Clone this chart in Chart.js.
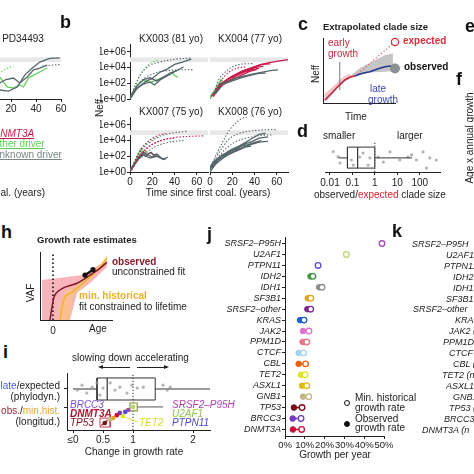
<!DOCTYPE html>
<html>
<head>
<meta charset="utf-8">
<script src="https://cdn.jsdelivr.net/npm/chart.js@4.4.1/dist/chart.umd.min.js"></script>
<style>
  html, body { margin: 0; padding: 0; }
  body { width: 474px; height: 474px; overflow: hidden; position: relative; background: #fff;
         font-family: "Liberation Sans", Arial, sans-serif; color: #222; }
  canvas { position: absolute; }
  .t { position: absolute; white-space: nowrap; line-height: 1; }
</style>
</head>
<body>
<script>
// ---------- data ----------
// b / a: clone size (Neff) trajectories, [years since first coalescence, Neff]
const timeTicks = [0, 20, 40, 60];
const neffTicks = [1, 1e2, 1e4, 1e6];
const neffTickLabels = ['1e+00', '1e+02', '1e+04', '1e+06'];
const neffBand = [5e4, 2e5];

const pd34493Lines = [
  {driver: 'unknown', pts: [[0,1],[6,5],[11,14],[18,10],[25,34],[31,1100],[38,1.2e4],[43,5e4],[51,1.5e5],[59,1.7e5]]},
  {driver: 'unknown', pts: [[0,1],[6,20],[11,110],[16,300],[22,470],[27,110],[33,630],[38,5e3],[43,8.7e3],[49,2.1e4]]},
  {driver: 'other', pts: [[0,1],[5,40],[11,630],[17,34],[22,25],[27,60],[30,34],[34,470],[38,1100],[43,2.7e3],[49,8.7e3]]},
  {driver: 'other', fit: true, pts: [[0,1],[5,150],[11,2e3],[17,8e3],[22,1.5e4]]},
  {driver: 'unknown', fit: true, pts: [[45,1.5e4],[52,2e4],[60,2.5e4]]}
];
const kx003Lines = [
  {driver: 'unknown', fit: true, pts: [[0,1],[9,1.1e3],[18,2e4],[27,5e4],[41,1.2e5],[55,1.6e5]]},
  {driver: 'unknown', fit: true, pts: [[0,1],[10,200],[20,1.5e3],[30,3.5e3],[42,5e3],[56,5.5e3]]},
  {driver: 'other', fit: true, pts: [[0,1],[5,60],[10,1.5e3],[15,1.5e4],[20,5e4],[25,9e4]]},
  {driver: 'unknown', pts: [[0,1],[5,15],[10,60],[15,200],[20,400],[27,2.7e3],[33,6e3],[40,2.5e4],[47,5e4],[55,1.2e5]]},
  {driver: 'unknown', pts: [[0,1],[6,20],[12,80],[18,150],[22,60],[27,260],[33,800],[40,3e3],[48,1.2e4]]},
  {driver: 'unknown', pts: [[0,2],[6,40],[12,300],[18,500],[24,200],[30,600],[36,2e3],[42,4e3]]},
  {driver: 'other', pts: [[0,1],[6,50],[12,250],[18,120],[25,300],[32,800],[38,2.5e3],[40,900],[43,600]]}
];
const kx004Lines = [
  {driver: 'unknown', fit: true, pts: [[3,3],[8,300],[14,3e3],[20,1.2e4],[26,2.5e4],[32,3e4],[38,3.2e4]]},
  {driver: 'DNMT3A', fit: true, pts: [[5,5],[10,200],[15,1.5e3],[20,5e3],[27,1e4],[33,1.3e4]]},
  {driver: 'unknown', pts: [[3,3],[9,100],[15,150],[22,400],[30,800],[38,1.5e3],[46,2.5e3],[54,4e3],[61,5e3]]},
  {driver: 'unknown', pts: [[5,5],[12,80],[20,200],[28,500],[36,1e3],[44,1.8e3],[50,2e3]]},
  {driver: 'DNMT3A', pts: [[2,3],[6,20],[10,80],[15,300],[20,800],[28,3e3],[36,8e3],[44,2e4],[52,4e4],[60,6e4],[70,1e5]]},
  {driver: 'DNMT3A', pts: [[3,2],[8,30],[13,150],[18,500],[24,1.5e3],[30,4e3],[38,1e4],[46,2.5e4],[54,3e4]]},
  {driver: 'DNMT3A', pts: [[4,5],[9,60],[14,200],[20,600],[26,2e3],[33,4e3],[40,1e4],[48,1.5e4]]},
  {driver: 'DNMT3A', pts: [[1,2],[7,15],[12,100],[17,200],[23,800],[30,2.5e3],[37,5e3],[44,8e3]]},
  {driver: 'DNMT3A', pts: [[5,10],[10,50],[16,150],[22,400],[28,1e3],[35,3e3],[42,6e3]]},
  {driver: 'other', pts: [[0,1],[2,3],[4,10],[6,40],[8,100],[10,300],[12,150]]},
  {driver: 'other', pts: [[0,2],[3,8],[6,20],[9,80],[11,40]]}
];
const kx007Lines = [
  {driver: 'unknown', fit: true, pts: [[0,1],[5,30],[10,500],[15,3e3],[20,1e4],[28,4e4],[36,8e4],[44,1.2e5],[52,1.5e5]]},
  {driver: 'DNMT3A', fit: true, pts: [[0,1],[5,40],[10,800],[15,5e3],[20,2e4],[26,5e4],[32,8e4]]},
  {driver: 'DNMT3A', fit: true, pts: [[0,1],[6,20],[12,300],[18,2e3],[26,8e3],[36,2e4],[46,3e4],[56,3.5e4],[66,4e4]]},
  {driver: 'other', fit: true, pts: [[0,1],[5,50],[10,1e3],[15,5e3],[20,1.5e4],[24,2.5e4]]},
  {driver: 'unknown', fit: true, pts: [[0,1],[8,40],[16,400],[24,2e3],[32,5e3],[40,8e3],[48,1e4]]},
  {driver: 'DNMT3A', fit: true, pts: [[0,1],[8,100],[16,1.5e3],[24,6e3],[32,1.5e4],[40,2e4]]},
  {driver: 'unknown', pts: [[0,1],[4,8],[8,60],[12,300],[16,150],[20,80],[24,200],[28,60],[32,40]]},
  {driver: 'unknown', pts: [[0,2],[5,20],[10,200],[14,100],[18,300],[22,150],[26,80]]},
  {driver: 'other', pts: [[0,1],[4,15],[8,300],[10,800],[12,200],[15,500]]},
  {driver: 'DNMT3A', pts: [[2,3],[7,60],[12,400],[15,150],[19,300],[22,100]]},
  {driver: 'unknown', pts: [[0,1],[6,30],[12,150],[18,60],[24,100],[30,40],[34,80]]}
];
const kx008Lines = [
  {driver: 'unknown', fit: true, pts: [[0,3],[4,50],[8,800],[12,1e4],[16,1e5],[20,6e5],[25,3e6],[30,8e6],[34,1e7]]},
  {driver: 'unknown', fit: true, pts: [[0,2],[6,100],[12,2e3],[18,2e4],[26,8e4],[34,1.5e5],[42,2e5],[52,2.5e5],[60,2.5e5]]},
  {driver: 'unknown', fit: true, pts: [[0,2],[8,100],[16,1.5e3],[24,8e3],[32,2e4],[40,3.5e4],[50,5e4],[56,5e4]]},
  {driver: 'unknown', pts: [[0,3],[4,15],[8,60],[12,150],[16,400],[20,800],[26,2e3],[32,6e3],[38,2e4],[44,6e4],[50,8e4]]},
  {driver: 'unknown', pts: [[0,2],[5,20],[10,100],[15,200],[20,600],[26,1.5e3],[32,4e3],[38,8e3],[44,2e4],[52,3e4]]},
  {driver: 'unknown', pts: [[1,5],[6,40],[11,150],[16,300],[22,700],[28,2e3],[34,3e3],[40,6e3],[46,1e4]]},
  {driver: 'unknown', pts: [[0,1],[5,10],[10,40],[16,150],[22,400],[28,1e3],[34,2.5e3],[40,5e3],[46,7e3],[52,8e3]]},
  {driver: 'unknown', pts: [[2,3],[7,30],[13,100],[19,300],[25,800],[31,1.5e3],[37,2e3]]},
  {driver: 'unknown', pts: [[0,4],[3,20],[7,50],[12,120],[18,250],[24,500],[30,1.2e3],[36,3e3],[42,5e3]]}
];

// c: schematic of extrapolated clade size
const earlyGrowth = [[0.3,0.46],[0.7,0.92],[1.4,1.7],[2.1,2.5],[2.7,3.1],[3.1,3.5],[3.9,4.0],[4.6,4.15]];
const lateGrowth = [[4.6,4.15],[5.3,4.46],[6,4.66],[6.7,4.82],[7.4,5.08],[8.1,5.34],[8.9,5.58],[9.6,5.69],[10,5.58]];
const earlyBand = [[0.2,1.4],[1,2.1],[2,3.1],[3,4.1],[3.9,4.5],[3.9,3.8],[3,3.3],[2,2.2],[1,0.9],[0.2,0.1]];
const lateBand = [[3.9,4.2],[5.3,5.4],[6.7,6.15],[8.9,7.4],[10,7.6],[10,4.9],[8.9,4.8],[6.7,4.7],[5.3,4.5],[3.9,3.9]];
const extrapolation = [[4.6,4.15],[10.3,9.4]];
const expectedSize = [[10.3,9.4]];
const observedSize = [[10.3,5.3]];
const growthSplit = [[2.4,2.0],[2.4,6.3]];

// d: observed / expected clade size
const ratioTicks = [0.01, 0.1, 1, 10, 100];
const ratioTickLabels = ['0.01', '0.1', '1', '10', '100'];
const cladeBoxStats = [0.024, 0.06, 0.17, 1, 45];
const cladeRatio = [0.014,0.023,0.028,0.09,0.3,0.6,0.5,0.21,0.11,4.7,13,30,43,71,140,200,280,550,1.4,2.4];
const cladeJitter = [0.68,0.51,0.3,0.4,0.63,0.47,0.23,0.5,0.23,0.67,0.4,0.5,0.57,0.4,0.67,0.13,0.47,0.4,0.5,0.33];

// h: growth rate estimate schematic (age, VAF)
const hObserved = [[1.39,0],[1.67,1.9],[2.08,3.7],[3.19,4.7],[5.14,5.4],[6.94,6.6],[8.33,7.6],[9.3,8.5]];
const hMinHist = [[2.78,0],[3.06,1.9],[3.47,3.4],[4.44,4.1],[5.97,5.4],[7.22,6.6],[8.33,7.8],[9.3,9.1]];
const hObsBand = [[0.28,5.9],[5.97,6.6],[9.3,8.8],[9.3,7.8],[6.94,5.4],[5.14,4.0],[4.17,0],[0.28,0]];
const hMinBand = [[2.5,0],[2.78,2.2],[3.47,4.1],[5.56,5.4],[8.33,8.1],[9.3,9.6],[9.3,8.5],[7.6,6.6],[5.56,4.4],[4.44,3.2],[4.17,0]];
const hSamples = [[6.25,6.6],[7.36,7.4]];
const hAgeZero = 1.8;

// i: change in growth rate
const changeTicks = [0, 0.5, 1, 2];
const changeTickLabels = ['\u22640', '0.5', '1', '2'];
const phyloBoxStats = [0, 0.4, 0.57, 1.37, 2.4];
const phyloChange = [0.07,0.15,0.23,0.32,0.5,0.62,0.7,0.78,0.9,0.98,1.07,1.17,1.5,1.62,1.57,0.45,0.4];
const phyloJitter = [0.91,1.11,0.79,1.03,0.99,1.2,0.91,1.03,0.79,1.11,0.99,1.03,1.11,1.03,0.91,0.71,1.2];
const longitGenes = ['U2AF1','SRSF2\u2013P95H','PTPN11','BRCC3','DNMT3A','TET2','SF3B1','GNB1','TP53'];
const longitChange = [1.0,0.92,0.87,0.78,0.73,0.83,0.67,0.62,0.53];
const longitJitter = [0.23,0.11,0.03,-0.01,-0.1,-0.14,-0.22,-0.26,-0.42];
const longitBoxStats = [0.95, 1.0, 1.07, 1.5];

// j: growth per year by driver gene
const genes = ['SRSF2\u2013P95H','U2AF1','PTPN11','IDH2','IDH1','SF3B1','SRSF2\u2013other','KRAS','JAK2',
               'PPM1D','CTCF','CBL','TET2','ASXL1','GNB1','TP53','BRCC3','DNMT3A'];
const minHistRate = [0.49,0.31,0.167,0.141,0.187,0.13,0.13,0.096,0.121,0.11,0.094,0.104,0.101,0.11,0.12,0.086,0.081,0.084];
const observedRate = [null,null,null,0.129,0.172,0.115,0.113,0.076,0.091,0.089,0.069,0.069,0.081,0.086,0.091,0.045,0.039,0.04];
const rateTicks = [0, 0.1, 0.2, 0.3, 0.4, 0.5];
const rateTickLabels = ['0%', '10%', '20%', '30%', '40%', '50%'];
const kLabels = ['SRSF2\u2013P95H','U2AF1','PTPN11','IDH2 (n','IDH1','SF3B1 (n','SRSF2\u2013other','KRAS (n','JAK2 (n',
                 'PPM1D (n','CTCF (n','CBL (n','TET2 (n','ASXL1 (n','GNB1','TP53 (n','BRCC3 (n','DNMT3A (n'];

// ---------- styles ----------
const INK = '#222';
const driverColour = {DNMT3A: '#c8194b', other: '#5fd05a', unknown: '#56666b'};
const geneColours = ['#9a4fb0','#b8d46a','#5a4cc4','#3a9a3a','#8c8c8c','#e8a020','#7b2a8a','#2160c4','#e070d0',
                     '#e87484','#a6d2f0','#e8600f','#e2e228','#e0b818','#c2b884','#7a0d18','#7436c4','#c8123a'];
const colourOf = {};
genes.forEach((g, i) => { colourOf[g] = geneColours[i]; });

Chart.defaults.font.family = '"Liberation Sans", Arial, sans-serif';
Chart.defaults.font.size = 10;
Chart.defaults.color = INK;
Chart.defaults.animation = false;
Chart.defaults.responsive = false;
Chart.defaults.plugins.legend.display = false;
Chart.defaults.plugins.tooltip.enabled = false;

const PAD = 16;

// canvas placed so that the chart area lands on area = [x0, y0, x1, y1]
function mount(area, yw, xh) {
  const c = document.createElement('canvas');
  const w = area[2] - area[0] + yw + 2 * PAD;
  const h = area[3] - area[1] + xh + 2 * PAD;
  c.width = w; c.height = h;
  c.style.width = w + 'px'; c.style.height = h + 'px';
  c.style.left = (area[0] - yw - PAD) + 'px';
  c.style.top = (area[1] - PAD) + 'px';
  document.body.appendChild(c);
  return c;
}

function axis(type, min, max, o) {
  o = o || {};
  const shown = o.show !== false;
  const ax = {
    type: type, min: min, max: max,
    display: shown,
    reverse: !!o.reverse,
    border: {display: o.line !== false, color: INK, width: 1},
    grid: {display: !!o.marks, drawOnChartArea: false, drawTicks: true, tickLength: 3, color: INK, tickColor: INK},
    ticks: {display: !!o.labels, padding: o.pad !== undefined ? o.pad : 1, font: o.font || {size: 10},
            color: INK, autoSkip: false, maxRotation: 0},
    afterFit: s => {
      const size = shown ? (o.size || 0) : 0;
      if (s.isHorizontal()) s.height = size; else s.width = size;
      s.paddingLeft = s.paddingRight = s.paddingTop = s.paddingBottom = 0;
    }
  };
  if (o.values) ax.afterBuildTicks = s => { s.ticks = o.values.map(v => ({value: v})); };
  if (o.labels) ax.ticks.callback = v => { const k = o.values.indexOf(v); return k < 0 ? '' : o.labels[k]; };
  return ax;
}

const xy = arr => arr.map(p => ({x: p[0], y: p[1]}));
function line(pts, colour, width, extra) {
  return Object.assign({data: xy(pts), showLine: true, pointRadius: 0, borderColor: colour, borderWidth: width}, extra || {});
}
function shape(pts, fillColour) {
  return {data: xy(pts), showLine: true, pointRadius: 0, borderWidth: 0, fill: 'shape', backgroundColor: fillColour, order: 10};
}

// ---------- a, b: Neff trajectories ----------
function neffPanel(area, traces, xmax, showX, showY) {
  const sets = traces.map(tr => line(tr.pts, driverColour[tr.driver], tr.fit ? 1.1 : 1.3,
    {borderDash: tr.fit ? [1.4, 1.8] : [], tension: tr.fit ? 0.35 : 0}));
  sets.push({data: [{x: 0, y: neffBand[1]}, {x: xmax, y: neffBand[1]}], showLine: true, pointRadius: 0,
             borderWidth: 0, fill: {value: neffBand[0]}, backgroundColor: '#e8e8e8', order: 10});
  return new Chart(mount(area, showY ? 30 : 0, showX ? 14 : 0), {
    type: 'scatter',
    data: {datasets: sets},
    options: {
      layout: {padding: PAD},
      scales: {
        x: axis('linear', 0, xmax, {show: showX, marks: true, values: timeTicks, labels: timeTicks.map(String), size: 14}),
        y: axis('logarithmic', 1, 1e7, {show: showY, marks: true, values: neffTicks, labels: neffTickLabels, size: 30})
      }
    }
  });
}
neffPanel([-14, 44, 61, 99], pd34493Lines, 60, true, false);
neffPanel([130, 44, 208, 99], kx003Lines, 70, false, true);
neffPanel([210, 44, 288, 99], kx004Lines, 70, false, false);
neffPanel([130, 117, 208, 172], kx007Lines, 70, true, true);
neffPanel([210, 117, 288, 172], kx008Lines, 70, true, false);

// ---------- c: extrapolated clade size ----------
new Chart(mount([323, 38, 395, 103], 0, 0), {
  type: 'scatter',
  data: {datasets: [
    {data: xy(expectedSize), pointRadius: 3.6, pointBackgroundColor: '#fff', pointBorderColor: '#e03040', pointBorderWidth: 1.3, clip: false},
    {data: xy(observedSize), pointRadius: 5, pointBackgroundColor: '#8a9094', pointBorderWidth: 0, clip: false},
    line(lateGrowth, '#27358f', 1.6),
    line(earlyGrowth, '#b8283e', 1.6),
    line(extrapolation, '#e2606a', 1.1, {borderDash: [1.4, 2]}),
    line(growthSplit, '#777', 1),
    shape(lateBand, 'rgba(140,140,140,0.5)'),
    shape(earlyBand, 'rgba(236,160,170,0.6)')
  ]},
  options: {
    layout: {padding: PAD},
    scales: {x: axis('linear', 0, 10.3), y: axis('linear', 0, 10)}
  }
});

// ---------- d: observed/expected clade size ----------
const [dLo, dQ1, dMed, dQ3, dHi] = cladeBoxStats;
new Chart(mount([325, 142, 440, 172], 0, 15), {
  type: 'scatter',
  data: {datasets: [
    line([[dQ1,0.13],[dQ3,0.13],[dQ3,0.83],[dQ1,0.83],[dQ1,0.13]], '#333', 1),
    line([[dMed,0.13],[dMed,0.83]], '#333', 1.2),
    line([[dLo,0.47],[dQ1,0.47]], '#333', 1),
    line([[dQ3,0.47],[dHi,0.47]], '#333', 1),
    {data: cladeRatio.map((v, k) => ({x: v, y: cladeJitter[k]})), pointRadius: 1.6, pointBackgroundColor: 'rgba(150,150,150,0.7)', pointBorderWidth: 0},
    line([[1,0],[1,1.02]], '#333', 1, {borderDash: [1.2, 1.6]})
  ]},
  options: {
    layout: {padding: PAD},
    scales: {
      x: axis('logarithmic', 0.006, 800, {marks: true, values: ratioTicks, labels: ratioTickLabels, size: 15, pad: 2}),
      y: axis('linear', 0, 1, {show: false})
    }
  }
});

// ---------- h: growth rate estimates ----------
new Chart(mount([40, 252, 112, 320], 0, 14), {
  type: 'scatter',
  data: {datasets: [
    {data: xy(hSamples), pointRadius: 2.6, pointBackgroundColor: '#111', pointBorderWidth: 0},
    line(hSamples, '#111', 2.4),
    line(hObserved, '#7e1424', 1.5, {tension: 0.3}),
    line(hMinHist, '#eeb22e', 1.5, {tension: 0.3}),
    line([[hAgeZero,0],[hAgeZero,10]], '#111', 1.6, {borderDash: [1.5, 2.5]}),
    shape(hMinBand, 'rgba(250,196,120,0.6)'),
    shape(hObsBand, 'rgba(240,120,132,0.55)')
  ]},
  options: {
    layout: {padding: PAD},
    scales: {
      x: axis('linear', 0, 10, {values: [hAgeZero], labels: ['0'], size: 14, pad: 2}),
      y: axis('linear', 0, 10)
    }
  }
});

// ---------- i: change in growth rate ----------
const [pLo, pQ1, pMed, pQ3, pHi] = phyloBoxStats;
const [lQ1, lMed, lQ3, lHi] = longitBoxStats;
const tetIdx = longitGenes.indexOf('TET2');
new Chart(mount([67, 373, 210, 430], 0, 14), {
  type: 'scatter',
  data: {datasets: [
    {data: longitChange.map((v, k) => ({x: v, y: longitJitter[k]})), pointRadius: 2.3,
     pointBackgroundColor: longitGenes.map(g => colourOf[g]), pointBorderWidth: 0},
    line([[longitChange[tetIdx], longitJitter[tetIdx]], [1.08, -0.38]], colourOf['TET2'], 1),
    line([[0.45,-0.22],[0.62,-0.22],[0.62,-0.58],[0.45,-0.58],[0.45,-0.22]], '#c43c4c', 1),
    line([[0.47,-0.52],[0.58,-0.3]], '#c43c4c', 1.4),
    line([[lQ1,0.07],[lQ3,0.07],[lQ3,0.39],[lQ1,0.39],[lQ1,0.07]], '#8c9a3c', 1.2),
    line([[lQ3,0.23],[lHi,0.23]], '#555', 1),
    {data: phyloChange.map((v, k) => ({x: v, y: phyloJitter[k]})), pointRadius: 1.6, pointBackgroundColor: 'rgba(150,150,150,0.7)', pointBorderWidth: 0},
    line([[pQ1,0.51],[pQ3,0.51],[pQ3,1.40],[pQ1,1.40],[pQ1,0.51]], '#333', 1),
    line([[pMed,0.51],[pMed,1.40]], '#333', 1.2),
    line([[pLo,0.955],[pQ1,0.955]], '#333', 1),
    line([[pQ3,0.955],[pHi,0.955]], '#333', 1),
    line([[1,-0.7],[1,1.6]], '#222', 1, {borderDash: [1.2, 1.8]})
  ]},
  options: {
    layout: {padding: PAD},
    scales: {
      x: axis('linear', -0.1, 2.283, {marks: true, values: changeTicks, labels: changeTickLabels, size: 14}),
      y: axis('linear', -0.7, 1.6, {marks: true, values: [0.2, 0.955]})
    }
  }
});

// ---------- j: growth per year ----------
const rowIdx = genes.map((g, i) => i);
const jSets = [
  {data: minHistRate.map((v, i) => ({x: v, y: i})), pointRadius: 2.8, pointBackgroundColor: '#fff',
   pointBorderColor: geneColours, pointBorderWidth: 1.3, clip: false}
];
const obsIdx = rowIdx.filter(i => observedRate[i] !== null);
jSets.push({data: obsIdx.map(i => ({x: observedRate[i], y: i})), pointRadius: 2.8,
            pointBackgroundColor: obsIdx.map(i => geneColours[i]), pointBorderColor: obsIdx.map(i => geneColours[i]), pointBorderWidth: 1});
obsIdx.forEach(i => jSets.push(line([[observedRate[i], i], [minHistRate[i], i]], geneColours[i], 1.6)));
new Chart(mount([285, 237, 384, 436], 80, 14), {
  type: 'scatter',
  data: {datasets: jSets},
  options: {
    layout: {padding: PAD},
    scales: {
      x: axis('linear', 0, 0.5, {marks: true, values: rateTicks, labels: rateTickLabels, size: 14, font: {size: 9.5}}),
      y: axis('linear', -0.6, 17.6, {reverse: true, marks: true, values: rowIdx, labels: genes, size: 80,
                                      font: {size: 9, style: 'italic'}})
    }
  }
});

// ---------- text ----------
function txt(s, x, base, o) {
  o = o || {};
  const fs = o.size || 10;
  const d = document.createElement('div');
  d.className = 't';
  d.innerHTML = s;
  d.style.fontSize = fs + 'px';
  d.style.top = (base - 0.8465 * fs) + 'px';
  if (o.bold) d.style.fontWeight = 'bold';
  if (o.italic) d.style.fontStyle = 'italic';
  if (o.color) d.style.color = o.color;
  if (o.css) d.style.cssText += o.css;
  if (o.align === 'center') { d.style.left = x + 'px'; d.style.transform = 'translateX(-50%)'; }
  else if (o.align === 'right') d.style.right = (474 - x) + 'px';
  else d.style.left = x + 'px';
  document.body.appendChild(d);
  return d;
}
function vtxt(s, cx, cy, o) {
  o = o || {};
  const d = document.createElement('div');
  d.className = 't';
  d.innerHTML = s;
  d.style.fontSize = (o.size || 10) + 'px';
  d.style.left = cx + 'px';
  d.style.top = cy + 'px';
  d.style.transform = 'translate(-50%,-50%) rotate(-90deg)';
  document.body.appendChild(d);
}
function arrow(x1, x2, y, headLeft) {
  const d = document.createElement('div');
  d.style.cssText = `position:absolute;left:${x1}px;top:${y}px;width:${x2 - x1}px;height:1px;background:${INK}`;
  document.body.appendChild(d);
  const h = document.createElement('div');
  h.style.cssText = `position:absolute;top:${y - 2}px;left:${headLeft ? x1 - 2 : x2 - 3}px;width:0;height:0;` +
    'border-top:2.5px solid transparent;border-bottom:2.5px solid transparent;' +
    (headLeft ? `border-right:5px solid ${INK}` : `border-left:5px solid ${INK}`);
  document.body.appendChild(h);
}
function dot(x, y, filled) {
  const d = document.createElement('div');
  d.style.cssText = `position:absolute;left:${x - 3.5}px;top:${y - 3.5}px;width:4.6px;height:4.6px;border-radius:50%;` +
    `border:1.2px solid #111;background:${filled ? '#111' : '#fff'}`;
  document.body.appendChild(d);
}

// panel letters
const L = {size: 18, bold: true, color: '#111'};
txt('b', 60, 28, L);
txt('c', 298, 30, L);
txt('d', 297, 137, L);
txt('e', 465, 32, L);
txt('f', 456, 85, L);
txt('h', 1, 238, L);
txt('i', 3, 358, L);
txt('j', 207, 240, L);
txt('k', 392, 237, L);

// a
txt('PD34493', 23, 42, {align: 'center'});
txt('DNMT3A', -7, 137, {italic: true, color: '#c8194b', css: 'text-decoration:underline;text-underline-offset:1px;'});
txt('other driver', -6, 147, {color: '#5fd05a', css: 'text-decoration:underline;text-underline-offset:1px;'});
txt('unknown driver', -6, 158, {color: '#7a8585', css: 'text-decoration:underline;text-underline-offset:1px;'});
txt('Time since first coal. (years)', 45, 196, {align: 'right'});

// b
txt('KX003 (81 yo)', 171, 42, {align: 'center'});
txt('KX004 (77 yo)', 250, 42, {align: 'center'});
txt('KX007 (75 yo)', 171, 115, {align: 'center'});
txt('KX008 (76 yo)', 250, 115, {align: 'center'});
vtxt('Neff', 100, 108);
txt('Time since first coal. (years)', 208, 196, {align: 'center'});

// c
txt('Extrapolated clade size', 323, 30, {size: 9.5, bold: true});
txt('early', 328, 46, {color: '#c8283e'});
txt('growth', 328, 57, {color: '#c8283e'});
txt('expected', 403, 44, {bold: true, color: '#e02c3c'});
txt('observed', 404, 70, {bold: true, color: '#111'});
txt('late', 370, 92, {color: '#3848b0'});
txt('growth', 368, 103, {color: '#3848b0'});
txt('Time', 356, 120, {align: 'center'});
vtxt('Neff', 316, 74);

// d
txt('smaller', 323, 139);
txt('larger', 397, 139);
txt('observed/<span style="color:#d8202c">expected</span> clade size', 314, 198);

// f
vtxt('Age x annual growth', 470, 138);

// h
txt('Growth rate estimates', 37, 243, {size: 9.5, bold: true});
vtxt('VAF', 31, 293);
txt('observed', 112, 265, {bold: true, color: '#8b1a2a'});
txt('unconstrained fit', 112, 275);
txt('min. historical', 79, 299, {bold: true, color: '#eab030'});
txt('fit constrained to lifetime', 79, 310);
txt('Age', 98, 332, {align: 'center'});

// i
txt('slowing down', 72, 361);
txt('accelerating', 135, 361);
arrow(100, 130, 367, true);
arrow(137, 167, 367, false);
txt('<span style="color:#4a5fd0">late</span>/expected', 60, 389, {align: 'right'});
txt('(phylodyn.)', 60, 400, {align: 'right'});
txt('<span style="color:#9b2335">obs.</span>/<span style="color:#e6a83a">min.hist.</span>', 60, 414, {align: 'right'});
txt('(longitud.)', 60, 425, {align: 'right'});
txt('BRCC3', 70, 408, {italic: true, color: '#7a50d0'});
txt('DNMT3A', 70, 417, {italic: true, bold: true, color: '#b0122e'});
txt('TP53', 70, 426, {italic: true, color: '#7a0d18'});
txt('SRSF2\u2013P95H', 172, 408, {italic: true, color: '#b23cb0'});
txt('U2AF1', 172, 417, {italic: true, color: '#8cc850'});
txt('PTPN11', 172, 426, {italic: true, color: '#4a4cd0'});
txt('TET2', 139, 426, {italic: true, color: '#d8d820'});
txt('Change in growth rate', 134, 455, {align: 'center'});

// j
txt('Growth per year', 335, 458, {align: 'center'});
dot(347, 403, false);
dot(347, 424, true);
txt('Min. historical', 355, 401.5);
txt('growth rate', 355, 411);
txt('Observed', 355, 422);
txt('growth rate', 355, 431.5);

// k
const kLeft = [412,446,444,453,453,446,413,455,449,443,449,453,442,446,453,449,444,422];
kLabels.forEach((s, i) => txt(s, kLeft[i], 247.5 + i * 10.93, {size: 9, italic: true}));
</script>
</body>
</html>
